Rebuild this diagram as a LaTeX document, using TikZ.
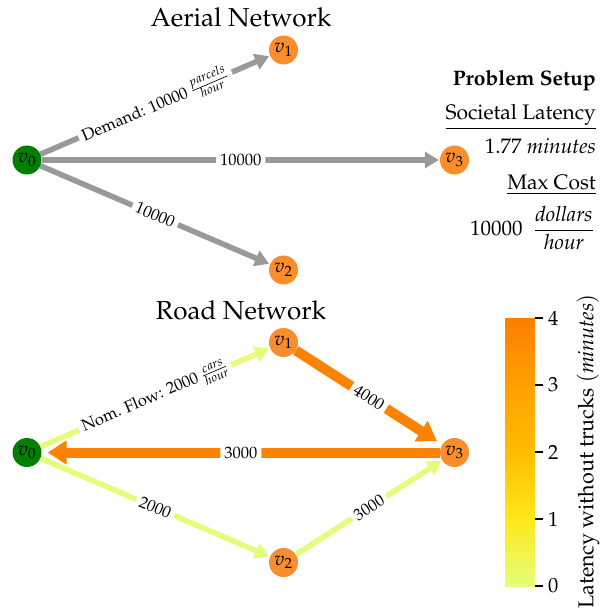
\documentclass[tikz,border=0pt]{standalone}
\usepackage[T1]{fontenc}
\usepackage{mathpazo}
\usetikzlibrary{arrows.meta}
\pgfdeclarelayer{background}
\pgfsetlayers{background,main}
\definecolor{edgegray}{RGB}{153,153,153}
\definecolor{lightflow}{RGB}{228,252,122}
\definecolor{heavyflow}{RGB}{253,130,0}
\definecolor{nodeorange}{RGB}{250,142,45}
\definecolor{nodegreen}{RGB}{0,128,0}
\definecolor{wA}{HTML}{E4FF7A}
\definecolor{wB}{HTML}{FFE81A}
\definecolor{wC}{HTML}{FFBD00}
\definecolor{wD}{HTML}{FFA000}
\definecolor{wE}{HTML}{FC7F00}
\tikzset{
  vnode/.style={circle, inner sep=0pt, minimum size=29pt, font=\fontsize{19.5}{19.5}\selectfont},
  orangenode/.style={vnode, fill=nodeorange},
  greennode/.style={vnode, fill=nodegreen},
  thinedge/.style={line width=5.5pt, -{Triangle[length=14pt,width=16pt]}, shorten >=1pt},
  thickedge/.style={line width=10pt, -{Triangle[length=19pt,width=23pt]}, shorten >=6pt},
  elabel/.style={midway, sloped, fill=white, text=black, rounded corners=3pt, inner xsep=4pt, inner ysep=2pt, font=\fontsize{16.5}{16.5}\selectfont},
  nettitle/.style={anchor=base, inner sep=0pt, font=\fontsize{26}{26}\selectfont},
  setup/.style={anchor=base east, inner sep=0pt, font=\fontsize{21}{21}\selectfont},
  ticklabel/.style={anchor=west, inner sep=0pt, font=\fontsize{20.5}{20.5}\selectfont},
  tickmark/.style={line width=1.2pt},
}
\begin{document}
\begin{tikzpicture}[x=1pt,y=-1pt]
\useasboundingbox (0,0) rectangle (610,612);
% ---------- Aerial network ----------
\node[nettitle] (t1) at (241,27) {Aerial Network};
\node[greennode]  (a0) at (27,160) {$v_0$};
\node[orangenode] (a1) at (283.5,50) {$v_1$};
\node[orangenode] (a2) at (283.5,270) {$v_2$};
\node[orangenode] (a3) at (454.5,160) {$v_3$};
\begin{pgfonlayer}{background}
\draw[thinedge, edgegray] (a0) -- node[elabel] {Demand: 10000 $\frac{parcels}{hour}$} (a1);
\draw[thinedge, edgegray] (a0) -- node[elabel] {10000} (a3);
\draw[thinedge, edgegray] (a0) -- node[elabel] {10000} (a2);
\end{pgfonlayer}
% ---------- Road network ----------
\node[nettitle] (t2) at (241,319.5) {Road Network};
\node[greennode]  (r0) at (27,452.5) {$v_0$};
\node[orangenode] (r1) at (283.5,342.5) {$v_1$};
\node[orangenode] (r2) at (283.5,562.5) {$v_2$};
\node[orangenode] (r3) at (454.5,452.5) {$v_3$};
\begin{pgfonlayer}{background}
\draw[thinedge, lightflow] (r0) -- node[elabel] {Nom. Flow: 2000 $\frac{cars}{hour}$} (r1);
\draw[thinedge, lightflow] (r0) -- node[elabel] {2000} (r2);
\draw[thinedge, lightflow] (r2) -- node[elabel] {3000} (r3);
\draw[thickedge, heavyflow] (r1) -- node[elabel] {4000} (r3);
\draw[thickedge, heavyflow] (r3) -- node[elabel] {3000} (r0);
\end{pgfonlayer}
% ---------- Problem setup ----------
\node[setup] (ps) at (596,86) {\textbf{Problem Setup}};
\node[setup] (sl) at (596,120) {\underline{Societal Latency}};
\node[setup] (slv) at (596,154) {$1.77\ \mathit{minutes}$};
\node[setup] (mc) at (596,190) {\underline{Max Cost}};
\node[setup, anchor=east] (mcv) at (594,228) {$10000\;\;\displaystyle\frac{\mathit{dollars}}{\mathit{hour}}$};
% ---------- Colour bar ----------
\shade[bottom color=wA, top color=wB] (505,586) rectangle (535,519);
\shade[bottom color=wB, top color=wC] (505,519.3) rectangle (535,452);
\shade[bottom color=wC, top color=wD] (505,452.3) rectangle (535,385);
\shade[bottom color=wD, top color=wE] (505,385.3) rectangle (535,318);
\foreach \v/\yy in {0/586,1/519,2/452,3/385,4/318}{
  \draw[tickmark] (535,\yy) -- (543,\yy);
  \node[ticklabel] (tick\v) at (548,\yy) {\v};
}
\node[rotate=90, inner sep=0pt, font=\fontsize{21.5}{21.5}\selectfont] (cblabel) at (588,451.5) {Latency without trucks $(\mathit{minutes})$};
\end{tikzpicture}
\end{document}
